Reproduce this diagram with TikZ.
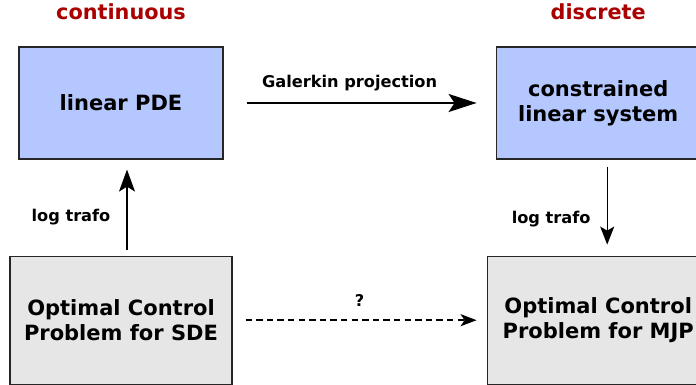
\documentclass[tikz,border=0pt]{standalone}
\usepackage{fontspec}
\setmainfont{DejaVu Sans}
\usepackage{tikz}
\usetikzlibrary{arrows.meta}
\usetikzlibrary{positioning}
\definecolor{pdeblue}{RGB}{180,199,255}
\definecolor{ocgray}{RGB}{230,230,230}
\definecolor{headred}{RGB}{170,0,0}
\tikzset{
    model/.style={
      rectangle,
           draw=black!85, line width=0.6pt,
           fill=pdeblue,
           inner sep=2pt,
           align=center,
           font=\bfseries\fontsize{10.5}{12.5}\selectfont,
           minimum width=102pt,
           minimum height=56pt,
           },
}
\tikzset{
    control/.style={
      rectangle,
           draw=black!85, line width=0.6pt,
           fill=ocgray,
           inner sep=2pt,
           align=center,
           font=\bfseries\fontsize{10.5}{12.5}\selectfont,
           minimum width=111pt,
           minimum height=64pt,
           },
}
\tikzset{
    heading/.style={
      text=headred,
           inner sep=0pt,
           font=\bfseries\fontsize{10.4}{12}\selectfont,
           text height=8pt,
           text depth=0pt,
           },
}
\tikzset{
    trafo/.style={
      inner sep=1pt,
           font=\bfseries\fontsize{8.1}{9}\selectfont,
           },
}

\begin{document}
\begin{tikzpicture}

\useasboundingbox (0,0) rectangle (348pt,192.5pt);

\node[model](pde) at (60.5pt,141pt){linear PDE};
\node[model,right = 136pt of pde](cls){constrained\\linear system};

\node[control,below = 48pt of pde](sde){Optimal Control\\Problem for SDE};
\node[control,below = 48pt of cls](mjp){Optimal Control\\Problem for MJP};

\node[heading,above = 13pt of pde](cont){continuous};
\node[heading,above = 13pt of cls](disc){discrete};

\path (pde) edge[-{Stealth[length=14pt,width=9pt,inset=3pt]},line width=1.2pt,shorten <=11.5pt,shorten >=9.5pt]
    node[trafo,above=4.5pt,xshift=-5pt]{Galerkin projection} (cls);

\path ([xshift=3pt]sde.north) edge[-{Stealth[length=11pt,width=8pt,inset=2.5pt]},line width=0.65pt,shorten <=3pt,shorten >=5pt]
    node[trafo,pos=0.4,left=7pt]{log trafo} ([xshift=3pt]pde.south);
\path ([xshift=4.5pt]cls.south) edge[-{Stealth[length=9pt,width=7pt,inset=2pt]},line width=0.65pt,shorten <=3.5pt,shorten >=5.5pt]
    node[trafo,pos=0.62,left=7pt]{log trafo} ([xshift=4.5pt]mjp.north);

\path (sde) edge[-{Stealth[length=8pt,width=6pt,inset=2pt]},line width=1pt,dash pattern=on 3.2pt off 2.1pt,shorten <=6.5pt,shorten >=5pt]
    node[trafo,above=5.5pt]{?} (mjp);

\end{tikzpicture}
\end{document}
